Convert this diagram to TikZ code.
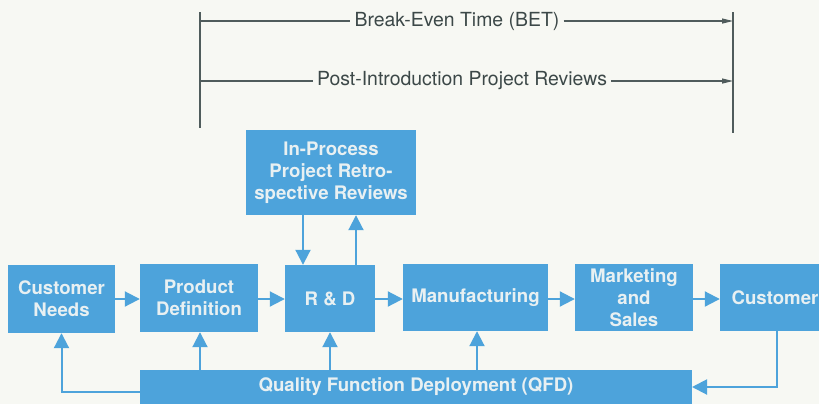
\documentclass[tikz,border=0pt]{standalone}
\usepackage{fontspec}
\setmainfont{TeX Gyre Heros}
\usetikzlibrary{arrows.meta,calc}
\definecolor{bluebox}{RGB}{77,163,219}
\definecolor{boxtext}{RGB}{232,240,242}
\definecolor{bgc}{RGB}{247,248,243}
\definecolor{linegray}{RGB}{80,92,92}
\definecolor{txtgray}{RGB}{60,72,72}
\tikzset{
  blk/.style={fill=bluebox, draw=none, inner sep=0pt, align=center, text=boxtext,
    font=\fontsize{18.7}{22}\selectfont\bfseries},
  arr/.style={draw=bluebox, line width=2bp, -{Triangle[length=15bp,width=15bp]}},
  gl/.style={draw=linegray, line width=1.2bp},
  garr/.style={draw=linegray, line width=1.2bp, -{Triangle[length=11bp,width=5bp]}},
  lbl/.style={text=txtgray, inner sep=4bp, font=\fontsize{19.5}{23}\selectfont}
}
\begin{document}
\begin{tikzpicture}[x=1bp,y=-1bp]
\fill[bgc] (0,0) rectangle (819,404);
\useasboundingbox (0,0) rectangle (819,404);
% top timelines
\coordinate (lt) at (200,12); \coordinate (lb) at (200,128);
\coordinate (rt) at (733,12); \coordinate (rb) at (733,133);
\draw[gl] (lt) -- (lb);
\draw[gl] (rt) -- (rb);
\node[lbl] (bet) at (457,21) {Break-Even Time (BET)};
\node[lbl] (pir) at (462,81) {Post-Introduction Project Reviews};
\coordinate (b1) at (200,21); \coordinate (b2) at (733,21);
\coordinate (p1) at (200,81); \coordinate (p2) at (733,81);
\draw[gl] (b1) -- (bet.west);
\draw[garr] (bet.east) -- (b2);
\draw[gl] (p1) -- (pir.west);
\draw[garr] (pir.east) -- (p2);
% boxes
\node[blk, minimum width=107bp, minimum height=68bp] (cn) at (61.5,299) {Customer\\Needs};
\node[blk, minimum width=118bp, minimum height=68bp] (pd) at (199,298) {Product\\Definition};
\node[blk, minimum width=90bp, minimum height=67bp] (rd) at (330,298.5) {R \& D};
\node[blk, minimum width=170bp, minimum height=85bp] (ipr) at (331,172.5) {In-Process\\Project Retro-\\spective Reviews};
\node[blk, minimum width=145bp, minimum height=67bp] (mf) at (475.5,297.5) {Manufacturing};
\node[blk, minimum width=118bp, minimum height=67bp] (ms) at (634,297.5) {Marketing\\and\\Sales};
\node[blk, minimum width=110bp, minimum height=67bp] (cu) at (775,297.5) {Customer};
\node[blk, minimum width=552bp, minimum height=34bp] (qfd) at (416,387) {Quality Function Deployment (QFD)};
% horizontal flow
\draw[arr] (cn.east |- 0,299) -- (pd.west |- 0,299);
\draw[arr] (pd.east |- 0,299) -- (rd.west |- 0,299);
\draw[arr] (rd.east |- 0,299) -- (mf.west |- 0,299);
\draw[arr] (mf.east |- 0,299) -- (ms.west |- 0,299);
\draw[arr] (ms.east |- 0,299) -- (cu.west |- 0,299);
% in-process reviews
\draw[arr] (ipr.south -| 303,0) -- (rd.north -| 303,0);
\draw[arr] (rd.north -| 356,0) -- (ipr.south -| 356,0);
% QFD feedback
\coordinate (q1) at (140,392);
\draw[arr] (q1) -| (cn.south);
\draw[arr] (qfd.north -| 200,0) -- (pd.south -| 200,0);
\draw[arr] (qfd.north -| 330,0) -- (rd.south -| 330,0);
\draw[arr] (qfd.north -| 477,0) -- (mf.south -| 477,0);
\coordinate (c1) at (777,331);
\coordinate (q2) at (692,387);
\draw[arr] (c1) |- (q2);
\end{tikzpicture}
\end{document}
